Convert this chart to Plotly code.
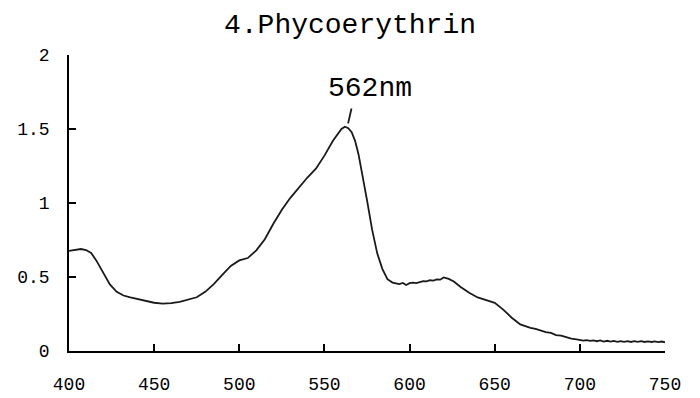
import plotly.graph_objects as go

wavelength = [400, 403, 407, 410, 413, 416, 420, 424, 428, 432, 436, 440, 445, 450, 455,
              460, 465, 470, 475, 480, 485, 490, 495, 500, 505, 510, 515, 520, 525, 530,
              535, 540, 545, 550, 555, 558, 560, 562, 564, 566, 568, 570, 572, 575, 578,
              581, 584, 587, 590, 592, 594, 596, 598, 600, 602, 604, 606, 608, 610, 612,
              614, 616, 618, 620, 623, 626, 630, 635, 640, 645, 650, 655, 660, 665, 668,
              671, 674, 677, 680, 683, 686, 689, 692, 695, 698, 700, 702, 704, 706, 708,
              710, 712, 714, 716, 718, 720, 722, 724, 726, 728, 730, 732, 734, 736, 738,
              740, 742, 744, 746, 748, 750]
absorbance = [0.677, 0.683, 0.689, 0.682, 0.663, 0.612, 0.530, 0.450, 0.400, 0.375, 0.362,
              0.352, 0.337, 0.326, 0.320, 0.323, 0.332, 0.345, 0.363, 0.400, 0.452, 0.515,
              0.575, 0.612, 0.628, 0.680, 0.755, 0.860, 0.955, 1.035, 1.105, 1.172, 1.232,
              1.320, 1.420, 1.470, 1.500, 1.515, 1.505, 1.478, 1.420, 1.330, 1.210, 1.020,
              0.820, 0.660, 0.555, 0.485, 0.462, 0.458, 0.452, 0.460, 0.446, 0.458, 0.462,
              0.459, 0.468, 0.472, 0.470, 0.478, 0.476, 0.484, 0.482, 0.497, 0.487, 0.470,
              0.433, 0.393, 0.362, 0.345, 0.325, 0.280, 0.225, 0.180, 0.166, 0.156, 0.150,
              0.138, 0.128, 0.122, 0.108, 0.104, 0.092, 0.084, 0.078, 0.074, 0.070, 0.074,
              0.068, 0.072, 0.066, 0.071, 0.064, 0.069, 0.063, 0.068, 0.062, 0.067, 0.062,
              0.067, 0.061, 0.066, 0.062, 0.066, 0.061, 0.065, 0.061, 0.065, 0.060, 0.064,
              0.059]

x_ticks = [400, 450, 500, 550, 600, 650, 700, 750]
y_ticks = [0, 0.5, 1, 1.5, 2]
y_tick_labels = ["0", "0.5", "1", "1.5", "2"]

title_text = "4.Phycoerythrin"
peak_label = "562nm"
peak_line_x = [563.9, 565.9]
peak_line_y = [1.538, 1.639]
peak_label_pos = (576.6, 1.776)

FONT = "Liberation Mono"

fig = go.Figure()
fig.add_trace(go.Scatter(x=wavelength, y=absorbance, mode="lines",
                         line=dict(color="#1a1a1a", width=1.8), showlegend=False,
                         hoverinfo="skip"))
fig.add_trace(go.Scatter(x=peak_line_x, y=peak_line_y, mode="lines",
                         line=dict(color="#1a1a1a", width=1.8), showlegend=False,
                         hoverinfo="skip"))
fig.add_annotation(x=peak_label_pos[0], y=peak_label_pos[1], text=peak_label,
                   showarrow=False, font=dict(family=FONT, size=28, color="#000"),
                   xanchor="center", yanchor="middle")

fig.update_layout(
    width=700, height=398,
    margin=dict(l=69, r=35, t=55, b=46.5),
    paper_bgcolor="white", plot_bgcolor="white",
    title=dict(text=title_text, x=0.5, xanchor="center", y=1 - 23 / 398,
               yanchor="middle", font=dict(family=FONT, size=28, color="#000")),
    font=dict(family=FONT, color="#000"),
)
fig.update_xaxes(range=[400, 750], tickvals=x_ticks, ticktext=[str(v) for v in x_ticks],
                 showline=True, linecolor="#000", linewidth=1.5, ticks="inside",
                 ticklen=7, tickwidth=1.5, tickcolor="#000", showgrid=False,
                 zeroline=False, tickfont=dict(family=FONT, size=18, color="#000"),
                 ticklabelstandoff=16, automargin=False)
fig.update_yaxes(range=[0, 2], tickvals=y_ticks, ticktext=y_tick_labels,
                 showline=True, linecolor="#000", linewidth=1.5, ticks="inside",
                 ticklen=7, tickwidth=1.5, tickcolor="#000", showgrid=False,
                 zeroline=False, tickfont=dict(family=FONT, size=18, color="#000"),
                 ticklabelstandoff=14, automargin=False)

fig.write_html("out.html")
